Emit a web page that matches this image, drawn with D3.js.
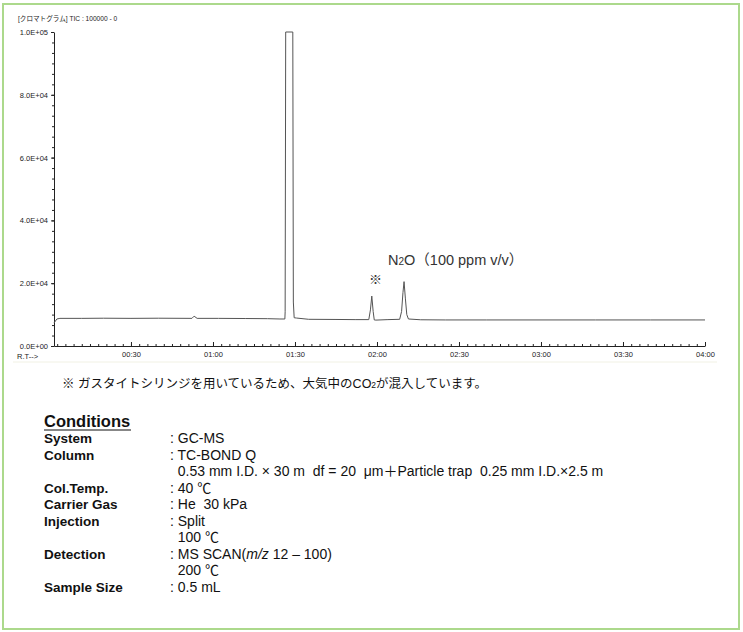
<!DOCTYPE html>
<html><head><meta charset="utf-8">
<script src="https://cdn.jsdelivr.net/npm/d3@7"></script>
<style>
body{margin:0;background:#fff;}
svg{display:block;}
</style></head>
<body>
<svg id="c" width="743" height="632"></svg>
<script>
// ---- data ----
const retentionTimes = [1.8, 2.9, 4.0, 12, 20, 30, 40, 52.3, 53.1, 54.2, 62, 72, 80, 84.5, 86.3, 86.4, 86.6, 89.2, 89.4, 89.7, 90.6, 95, 105, 112, 117.0, 117.6, 118.1, 118.6, 119.0, 119.6, 124, 128.3, 129.0, 129.5, 129.9, 130.4, 130.9, 131.5, 136, 145, 160, 180, 200, 220, 240];
const intensities    = [7300, 8600, 8800, 8800, 8850, 8800, 8850, 8800, 9500, 8800, 8800, 8750, 8700, 8600, 8600, 10900, 100000, 100000, 14000, 9000, 8900, 8500, 8450, 8400, 8400, 11500, 15900, 11000, 8300, 8250, 8400, 8500, 11000, 17000, 20500, 15000, 10000, 8600, 8350, 8300, 8300, 8300, 8300, 8300, 8300];
const yTickValues = [0, 20000, 40000, 60000, 80000, 100000];
const yTickLabels = ["0.0E+00", "2.0E+04", "4.0E+04", "6.0E+04", "8.0E+04", "1.0E+05"];
const xTickValues = [30, 60, 90, 120, 150, 180, 210, 240];
const xTickLabels = ["00:30", "01:00", "01:30", "02:00", "02:30", "03:00", "03:30", "04:00"];
const conditionLabels = ["System", "Column", "", "Col.Temp.", "Carrier Gas", "Injection", "", "Detection", "", "Sample Size"];
const conditionValues = [": GC-MS", ": TC-BOND Q", "  0.53 mm I.D. \u00d7 30 m  df = 20  \u03bcm\uff0bParticle trap  0.25 mm I.D.\u00d72.5 m", ": 40 \u2103", ": He  30 kPa", ": Split", "  100 \u2103", "MS", "  200 \u2103", ": 0.5 mL"];

const svg = d3.select("#c");
const sans = "'Liberation Sans', Arial, 'Noto Sans CJK JP', sans-serif";
const cjk = "'Liberation Sans', Arial, 'Noto Sans CJK JP', sans-serif";

// frame
svg.append("rect").attr("x", 3).attr("y", 4).attr("width", 736).attr("height", 625)
  .attr("fill", "none").attr("stroke", "#acd98c").attr("stroke-width", 2);

const x = d3.scaleLinear().domain([1.8, 240]).range([53.9, 705]);
const y = d3.scaleLinear().domain([0, 100000]).range([346, 32]);

const tickFont = "7.5px";

// header
svg.append("text").attr("x", 18).attr("y", 21).attr("font-family", cjk).attr("font-size", "6.6px")
  .attr("fill", "#222").text("[クロマトグラム] TIC : 100000 - 0");

// y axis
const yAxis = d3.axisLeft(y).tickValues(yTickValues).tickFormat((d, i) => yTickLabels[i]).tickSize(3).tickPadding(3).tickSizeOuter(0);
const gy = svg.append("g").attr("transform", "translate(54,0)").call(yAxis);
gy.selectAll("text").attr("font-family", sans).attr("font-size", tickFont).attr("fill", "#222");
gy.selectAll("line,path").attr("stroke", "#222");
const yMinor = d3.axisLeft(y).tickValues(d3.range(0, 100001, 20000 / 6)).tickSize(2).tickFormat("");
const gym = svg.append("g").attr("transform", "translate(54,0)").call(yMinor);
gym.select(".domain").remove();
gym.selectAll("line").attr("stroke", "#222");

// x axis
const xAxis = d3.axisBottom(x).tickValues(xTickValues).tickFormat((d, i) => xTickLabels[i]).tickSize(-4).tickPadding(6).tickSizeOuter(0);
const gx = svg.append("g").attr("transform", "translate(0,346)").call(xAxis);
gx.selectAll("text").attr("font-family", sans).attr("font-size", tickFont).attr("fill", "#222");
gx.selectAll("line,path").attr("stroke", "#222");
const xMinor = d3.axisBottom(x).tickValues(d3.range(3, 240, 3)).tickSize(-2).tickFormat("");
const gxm = svg.append("g").attr("transform", "translate(0,346)").call(xMinor);
gxm.select(".domain").remove();
gxm.selectAll("line").attr("stroke", "#222");

svg.append("text").attr("x", 17).attr("y", 359).attr("font-family", sans).attr("font-size", tickFont)
  .attr("fill", "#222").text("R.T-->");

// faint separator
svg.append("line").attr("x1", 13).attr("x2", 717).attr("y1", 362).attr("y2", 362)
  .attr("stroke", "#f1f1e4").attr("stroke-width", 1);

// chromatogram
const pts = retentionTimes.map((t, i) => [t, intensities[i]]);
svg.append("path").datum(pts)
  .attr("d", d3.line().x(d => x(d[0])).y(d => y(d[1])))
  .attr("fill", "none").attr("stroke", "#555").attr("stroke-width", 1);

// peak annotations
const lab = svg.append("text").attr("x", 388).attr("y", 265).attr("font-family", cjk).attr("font-size", "14.5px").attr("fill", "#333");
lab.append("tspan").text("N");
lab.append("tspan").attr("font-size", "10px").text("2");
lab.append("tspan").text("O\uff08100 ppm v/v\uff09");
svg.append("text").attr("x", 369).attr("y", 284).attr("font-family", cjk).attr("font-size", "13px").attr("fill", "#333").text("※");

// footnote
const fn = svg.append("text").attr("x", 62).attr("y", 388).attr("font-family", cjk).attr("font-size", "12.5px").attr("fill", "#111");
fn.append("tspan").text("※ ガスタイトシリンジを用いているため、大気中のCO");
fn.append("tspan").attr("font-size", "8.5px").text("2");
fn.append("tspan").text("が混入しています。");

// conditions
svg.append("text").attr("x", 44).attr("y", 427).attr("font-family", sans).attr("font-size", "16.5px")
  .attr("font-weight", "bold").attr("fill", "#111").text("Conditions");
svg.append("line").attr("x1", 44).attr("x2", 131).attr("y1", 430).attr("y2", 430).attr("stroke", "#111").attr("stroke-width", 1.2);

const rowY = d3.scaleLinear().domain([0, 9]).range([443, 592]);
conditionLabels.forEach((l, i) => {
  if (l) svg.append("text").attr("x", 44).attr("y", rowY(i)).attr("font-family", sans).attr("font-size", "13.5px")
    .attr("font-weight", "bold").attr("fill", "#111").text(l);
});
conditionValues.forEach((v, i) => {
  const t = svg.append("text").attr("x", 170).attr("y", rowY(i)).attr("font-family", sans).attr("font-size", "14px")
    .attr("fill", "#111").attr("xml:space", "preserve").style("white-space", "pre");
  if (i === 7) {
    t.append("tspan").text(": MS SCAN(");
    t.append("tspan").attr("font-style", "italic").text("m/z");
    t.append("tspan").text(" 12 \u2013 100)");
  } else {
    t.text(v);
  }
});
</script>
</body></html>
